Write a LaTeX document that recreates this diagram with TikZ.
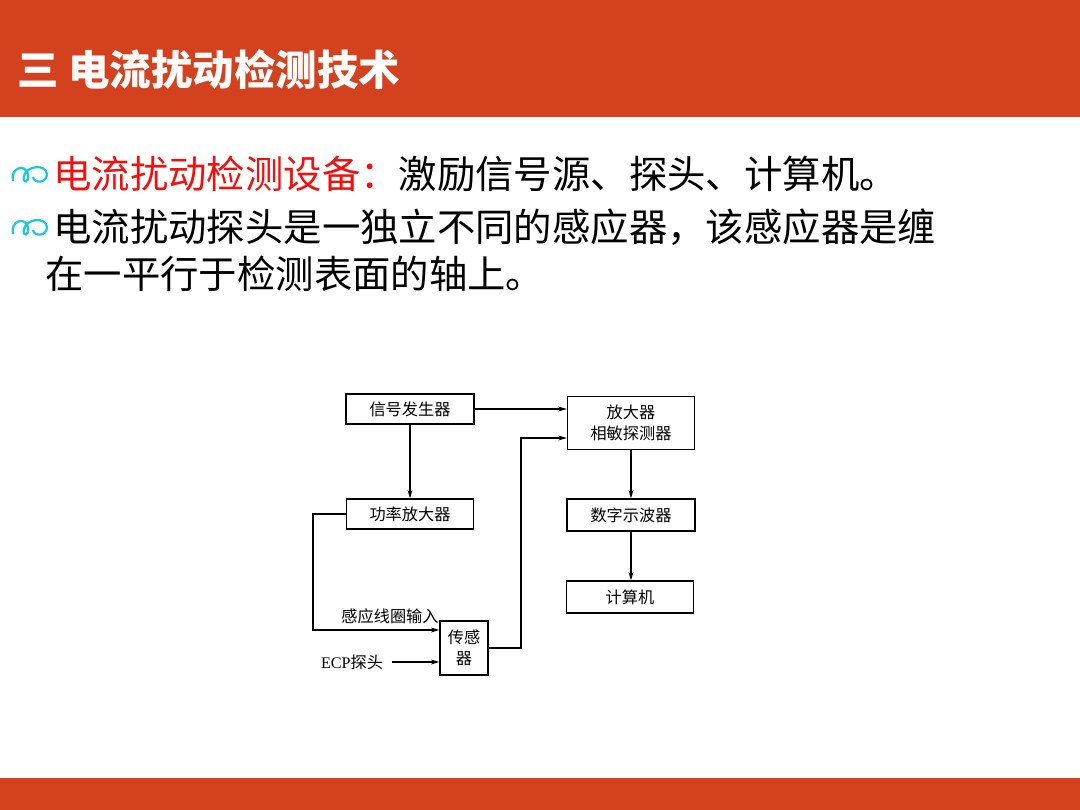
\documentclass[tikz,border=0pt]{standalone}
\usepackage{fontspec}
\setmainfont{Liberation Serif}
\newfontfamily\cjk{Noto Sans CJK SC}
\usetikzlibrary{arrows.meta}
\begin{document}
\begin{tikzpicture}[x=0.025cm, y=-0.025cm,
    blockbox/.style={draw, line width=1pt, inner sep=0pt, align=center,
        font=\cjk\fontsize{11.5}{15}\selectfont},
    flow/.style={-{Stealth[length=6pt,width=3.5pt]}, line width=0.8pt},
    bodytext/.style={anchor=west, inner sep=0pt, font=\cjk\fontsize{27.3}{32}\selectfont}]
    % Define colours
    \definecolor{barColour}{HTML}{D4411F}
    \definecolor{bulletColour}{HTML}{1FC8D8}
    \definecolor{redText}{HTML}{F01010}

    % Define pixel unit
    \def\px{0.025cm}

    % Draw page and bars
    \useasboundingbox[fill=white] (0,0) rectangle (1080,810);
    \fill[barColour] (0,0) rectangle (1080,117);
    \fill[barColour] (0,778) rectangle (1080,810);

    % Title
    \node[anchor=west, inner sep=0pt, text=white, font=\cjk\bfseries\fontsize{29.5}{32}\selectfont] (title) at (17,69) {三 电流扰动检测技术};

    % Bullets
    \foreach \y in {174,227} {
        \draw[bulletColour, line width=1.6pt]
            (13,\y+7) .. controls (10,\y-6) and (25,\y-11) .. (28,\y)
            .. controls (30,\y+9) and (22,\y+10) .. (24,\y+2)
            .. controls (27,\y-9) and (46,\y-10) .. (47,\y)
            .. controls (47,\y+9) and (34,\y+10) .. (33,\y+3);
    }

    % Body text
    \node[bodytext] (line1) at (53,174) {\textcolor{redText}{电流扰动检测设备：}激励信号源、探头、计算机。};
    \node[bodytext] (line2) at (53,227) {电流扰动探头是一独立不同的感应器，该感应器是缠};
    \node[bodytext] (line3) at (45,274) {在一平行于检测表面的轴上。};

    % Draw blocks
    \node[blockbox, minimum width=128*\px, minimum height=30*\px] (sig) at (410,409) {信号发生器};
    \node[blockbox, minimum width=127*\px, minimum height=53*\px] (amp) at (631,423) {放大器\\相敏探测器};
    \node[blockbox, minimum width=127*\px, minimum height=30*\px] (pwr) at (410,514) {功率放大器};
    \node[blockbox, minimum width=128*\px, minimum height=32*\px] (osc) at (631,515) {数字示波器};
    \node[blockbox, minimum width=127*\px, minimum height=32*\px] (comp) at (630,597) {计算机};
    \node[blockbox, minimum width=48*\px, minimum height=54*\px] (sens) at (464,648) {传感\\器};

    % Draw connections
    \draw[flow] (sig.east) -- (amp.west |- sig.east);
    \draw[flow] (sig.south) -- (pwr.north);
    \draw[flow] (amp.south) -- (osc.north);
    \draw[flow] (osc.south) -- (osc.south |- comp.north);

    \coordinate (coilin) at (313,630);
    \draw[flow] (pwr.west) -| (coilin) -- (coilin -| sens.west);
    \node[font=\cjk\fontsize{11.5}{13}\selectfont, inner sep=0pt] (coillabel) at (390,616) {感应线圈输入};

    \node[font=\cjk\fontsize{11.5}{13}\selectfont, inner sep=2pt] (ecp) at (352,662) {\textrm{ECP}探头};
    \draw[flow] ([xshift=4pt]ecp.east) -- (ecp.east -| sens.west);

    \coordinate (ret) at (521,438);
    \draw[flow] (sens.east) -| (ret) -- (ret -| amp.west);

\end{tikzpicture}
\end{document}
